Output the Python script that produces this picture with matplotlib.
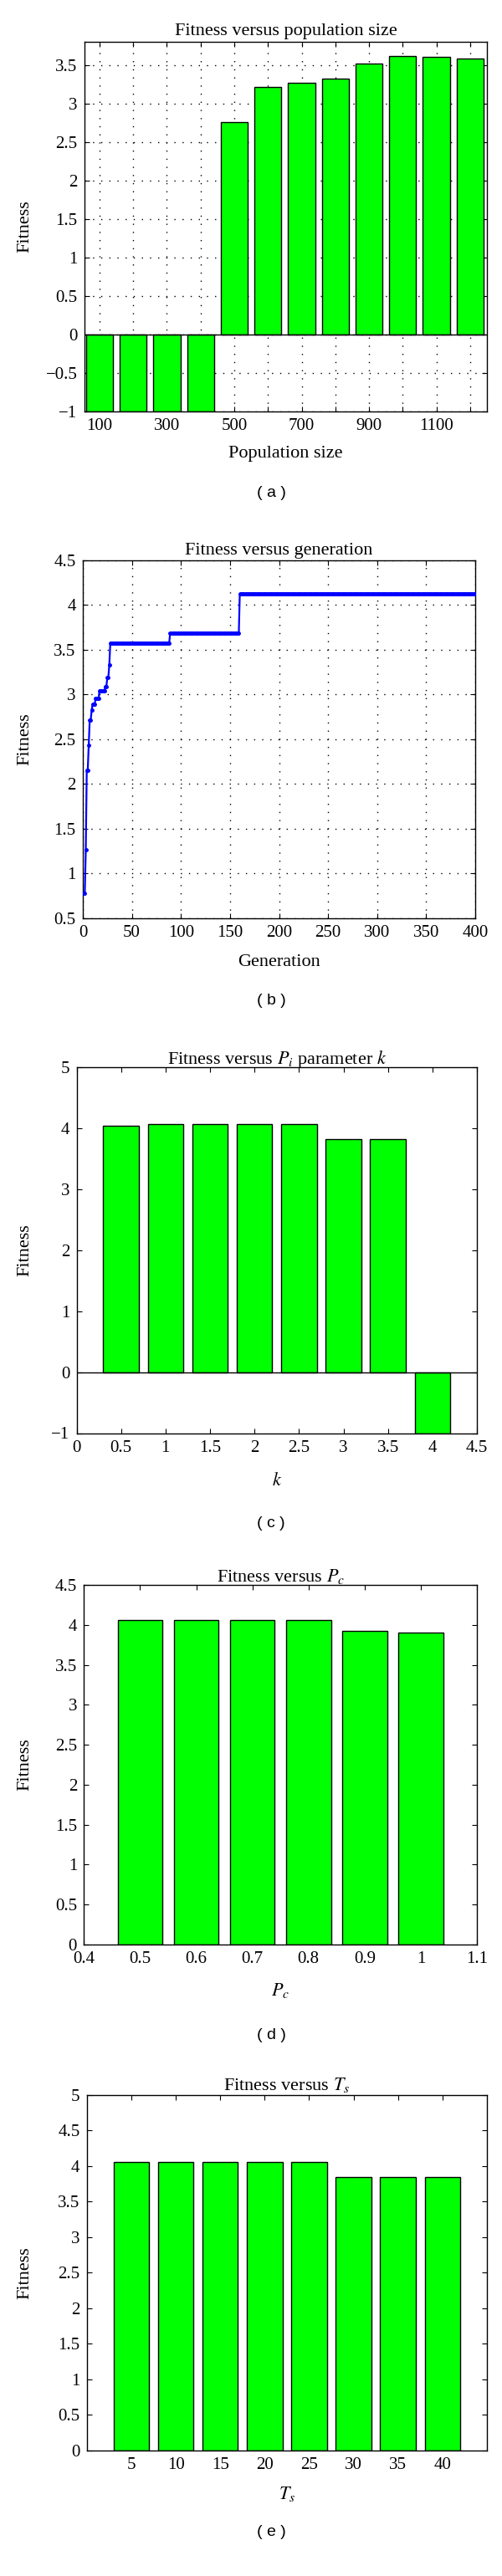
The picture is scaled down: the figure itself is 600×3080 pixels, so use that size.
import numpy as np
import matplotlib
matplotlib.use("Agg")
import matplotlib.pyplot as plt
from matplotlib.ticker import FuncFormatter, MultipleLocator

plt.rcParams['font.family'] = ['Liberation Serif', 'DejaVu Serif']
plt.rcParams['mathtext.fontset'] = 'stix'
plt.rcParams['font.size'] = 16
plt.rcParams['axes.unicode_minus'] = True

# (a) fitness versus population size
pop_size = [100, 200, 300, 400, 500, 600, 700, 800, 900, 1000, 1100, 1200]
pop_fitness = [-1, -1, -1, -1, 2.757, 3.216, 3.266, 3.32, 3.513, 3.617, 3.605, 3.58]

# (b) fitness versus generation: best fitness held from step start generation
step_start = [1, 3, 4, 6, 7, 9, 10, 13, 17, 23, 25, 27, 28, 89, 160]
step_fitness = [0.78, 1.26, 2.15, 2.43, 2.71, 2.82, 2.89, 2.95, 3.04, 3.09,
                3.19, 3.33, 3.57, 3.68, 4.12]
last_gen = 400

# (c) fitness versus Pi parameter k
k_values = [0.5, 1.0, 1.5, 2.0, 2.5, 3.0, 3.5, 4.0]
k_fitness = [4.04, 4.06, 4.06, 4.06, 4.06, 3.82, 3.82, -1]

# (d) fitness versus Pc
pc_values = [0.5, 0.6, 0.7, 0.8, 0.9, 1.0]
pc_fitness = [4.056, 4.056, 4.056, 4.056, 3.924, 3.90]

# (e) fitness versus Ts
ts_values = [5, 10, 15, 20, 25, 30, 35, 40]
ts_fitness = [4.06, 4.06, 4.06, 4.06, 4.06, 3.85, 3.85, 3.85]

W, H = 600, 3080
fig = plt.figure(figsize=(W / 100, H / 100), dpi=100)

def make_ax(left, right, top, bottom):
    return fig.add_axes([left / W, 1 - bottom / H, (right - left) / W, (bottom - top) / H])

fmt = FuncFormatter(lambda v, p: ('%g' % round(v, 6)).replace('-', '\u2212'))
bar_color = '#00FF00'
dotted = (0, (1, 6))

def style(ax, grid=False):
    ax.tick_params(direction='in', top=True, right=True, length=4, width=0.8, labelsize=15)
    ax.tick_params(axis='x', pad=6)
    ax.tick_params(axis='y', pad=6)
    ax.yaxis.set_major_formatter(fmt)
    for s in ax.spines.values():
        s.set_linewidth(1.0)
    if grid:
        ax.grid(True, linestyle=dotted, color='k', linewidth=1.0)

def labels(ax, title, xlabel, tag, ax_h, ax_w, ax_left, pad_title, x_off, tag_y):
    ax.set_title(title, fontsize=16, pad=pad_title)
    ax.set_xlabel(xlabel, fontsize=16)
    ax.xaxis.set_label_coords(0.5, -(x_off - 9) / ax_h)
    ax.set_ylabel('Fitness', fontsize=16)
    ax.yaxis.set_label_coords(-(ax_left - 39) / ax_w, 0.5)
    fig.text(324 / W, 1 - tag_y / H, tag, ha='center', va='center',
             fontsize=14, family=['Liberation Sans', 'DejaVu Sans'])

# ---- (a)
ax = make_ax(100.8, 582, 50, 492)
ax.bar(pop_size, pop_fitness, width=80, color=bar_color, edgecolor='k', linewidth=1.0, zorder=2)
ax.axhline(0, color='k', linewidth=1.0, zorder=3)
ax.set_xlim(55, 1250)
ax.set_ylim(-1, 3.8)
ax.set_xticks(pop_size)
ax.set_xticklabels([str(v) if v % 200 == 100 else '' for v in pop_size])
ax.yaxis.set_major_locator(MultipleLocator(0.5))
style(ax, grid=True)
ax.set_axisbelow(True)
labels(ax, 'Fitness versus population size', 'Population size', '( a )',
       442, 481.2, 100.8, 6, 50, 590)

# ---- (b)
gens = np.arange(1, last_gen + 1)
run_len = np.diff(step_start + [last_gen + 1])
fit_gen = np.repeat(step_fitness, run_len)
ax = make_ax(99, 568, 669.6, 1097.7)
ax.plot(gens, fit_gen, color='#0000FF', linewidth=1.6, marker='.', markersize=5, zorder=3)
ax.set_xlim(0, 400)
ax.set_ylim(0.5, 4.5)
ax.xaxis.set_major_locator(MultipleLocator(50))
ax.yaxis.set_major_locator(MultipleLocator(0.5))
ax.xaxis.set_major_formatter(fmt)
style(ax, grid=True)
labels(ax, 'Fitness versus generation', 'Generation', '( b )',
       428.1, 469, 99, 5, 52, 1196.5)

# ---- (c)
ax = make_ax(91.5, 570, 1275.8, 1713.5)
ax.bar(k_values, k_fitness, width=0.4, color=bar_color, edgecolor='k', linewidth=1.0, zorder=2)
ax.axhline(0, color='k', linewidth=1.0, zorder=3)
ax.set_xlim(0, 4.5)
ax.set_ylim(-1, 5)
ax.xaxis.set_major_locator(MultipleLocator(0.5))
ax.yaxis.set_major_locator(MultipleLocator(1))
ax.xaxis.set_major_formatter(fmt)
style(ax)
labels(ax, 'Fitness versus $P_i$ parameter $k$', '$k$', '( c )',
       437.7, 478.5, 91.5, 3, 56, 1822)

# ---- (d)
ax = make_ax(100.4, 570, 1895, 2325)
ax.bar(pc_values, pc_fitness, width=0.08, color=bar_color, edgecolor='k', linewidth=1.0, zorder=2)
ax.set_xlim(0.4, 1.1)
ax.set_ylim(0, 4.5)
ax.xaxis.set_major_locator(MultipleLocator(0.1))
ax.yaxis.set_major_locator(MultipleLocator(0.5))
ax.xaxis.set_major_formatter(fmt)
style(ax)
labels(ax, 'Fitness versus $P_c$', '$P_c$', '( d )',
       430, 469.6, 100.4, 3, 53, 2434)

# ---- (e)
ax = make_ax(103.8, 582, 2505, 2929.6)
ax.bar(ts_values, ts_fitness, width=4, color=bar_color, edgecolor='k', linewidth=1.0, zorder=2)
ax.set_xlim(0, 45)
ax.set_ylim(0, 5)
ax.set_xticks(ts_values)
ax.yaxis.set_major_locator(MultipleLocator(0.5))
ax.xaxis.set_major_formatter(fmt)
style(ax)
labels(ax, 'Fitness versus $T_s$', '$T_s$', '( e )',
       424.6, 478.2, 103.8, 4, 50, 3028)

fig.savefig('out.png', dpi=100)
